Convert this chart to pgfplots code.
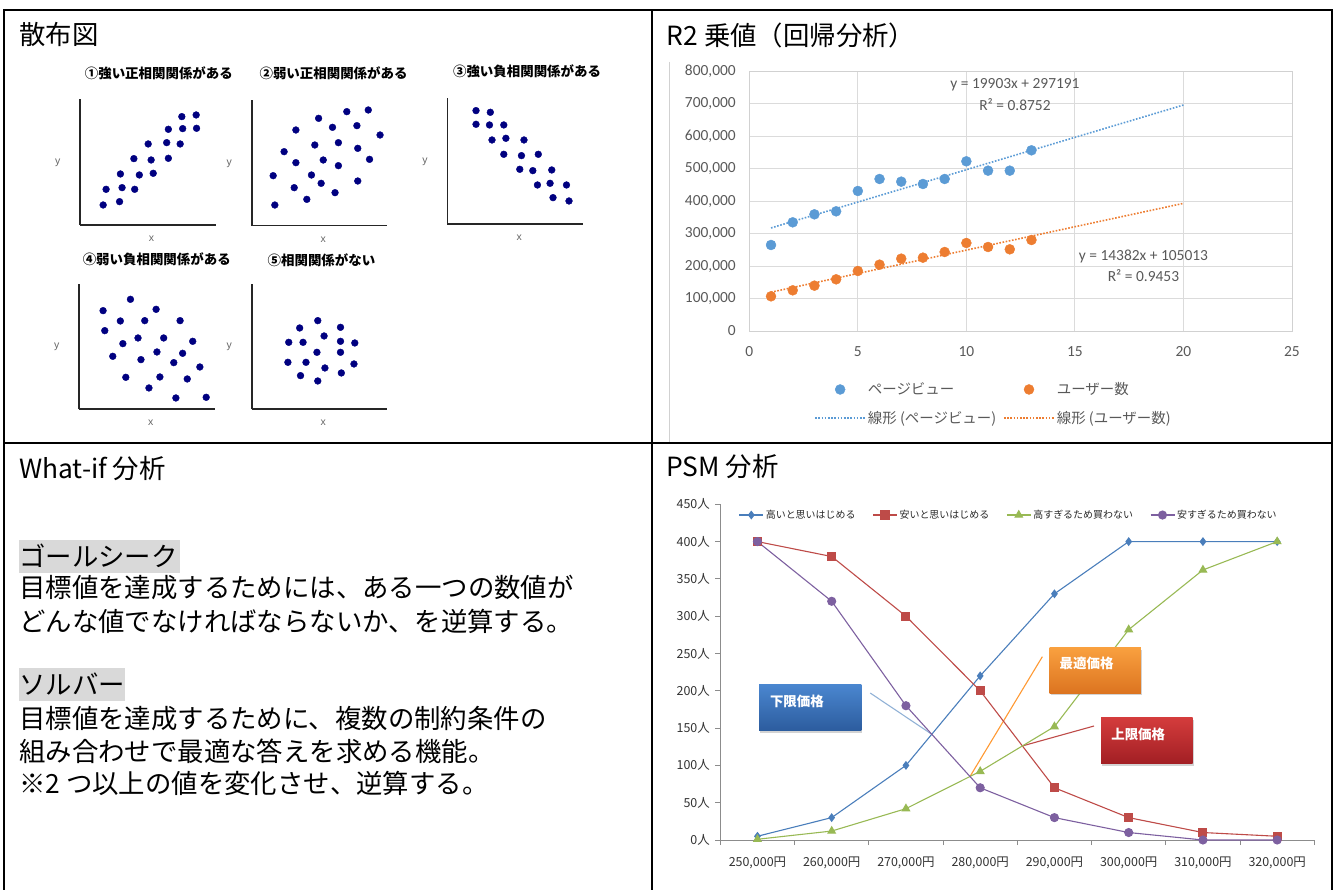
\documentclass[border=0pt]{standalone}
\usepackage{fontspec}
\setmainfont{Noto Sans CJK JP}
\newfontfamily\carlito{Carlito}
\newfontfamily\arial{Liberation Sans}
\usepackage{pgfplots}
\pgfplotsset{compat=1.18}
\usetikzlibrary{shadows}

\newcommand{\fs}[1]{\fontsize{#1}{#1}\selectfont}

\definecolor{navy}{RGB}{0,0,128}
\definecolor{pvblue}{HTML}{5B9BD5}
\definecolor{uorange}{HTML}{ED7D31}
\definecolor{gtext}{HTML}{595959}
\definecolor{psmblue}{HTML}{4A7EBB}
\definecolor{psmred}{HTML}{BE4B48}
\definecolor{psmgreen}{HTML}{98B954}
\definecolor{psmpurple}{HTML}{7D60A0}
\definecolor{hl}{HTML}{D9D9D9}
\definecolor{boxbluetop}{HTML}{4A86CF}
\definecolor{boxbluebot}{HTML}{2C5C9E}
\definecolor{boxorangetop}{HTML}{F9A03F}
\definecolor{boxorangebot}{HTML}{DC7420}
\definecolor{boxredtop}{HTML}{D43C3C}
\definecolor{boxredbot}{HTML}{A21F24}

\pgfplotsset{
  scat/.style={scale only axis, anchor=south west, clip=false,
    axis x line*=bottom, axis y line*=left,
    axis line style={-, line width=1.6bp, draw=black!85},
    xtick=\empty, ytick=\empty,
    xlabel={x}, ylabel={y},
    xlabel style={at={(axis description cs:0.528,-0.11)}, anchor=center, font=\arial\fs{10.5}, text=black!60},
    ylabel style={at={(axis description cs:-0.165,0.496)}, anchor=center, rotate=-90, font=\arial\fs{10.5}, text=black!60},
    title style={anchor=center, font=\bfseries\fs{13.5}}},
  dots/.style={only marks, mark=*, mark size=3.4bp, mark options={draw=navy, fill=navy}},
}

\begin{document}
\begin{tikzpicture}[x=1bp, y=1bp]
\useasboundingbox (0,0) rectangle (1335,889);

% table frame
\draw[line width=2.5bp] (4,-2) -- (4,879) -- (1332,879) -- (1332,-2);
\draw[line width=2.5bp] (4,446) -- (1332,446);
\draw[line width=2.5bp] (652,879) -- (652,-2);
\draw[black!18, line width=0.8bp] (669.5,827) -- (669.5,447);

% cell headers
\node[anchor=base west, inner sep=0, font=\fs{26.5}] at (19,844) {散布図};
\node[anchor=base west, inner sep=0, font=\fs{26.5}] at (666.5,843) {R2 乗値（回帰分析）};
\node[anchor=base west, inner sep=0, font=\fs{26.5}] at (19,410) {What-if 分析};
\node[anchor=base west, inner sep=0, font=\fs{26.5}] at (666,412) {PSM 分析};

% What-if text
\fill[hl] (19,349) rectangle (180,316.3);
\fill[hl] (19,220.7) rectangle (125,188.3);
\begin{scope}[every node/.style={anchor=base west, inner sep=0, font=\fs{26.5}}]
\node at (19,322.3) {ゴールシーク};
\node at (19,291) {目標値を達成するためには、ある一つの数値が};
\node at (19,257.3) {どんな値でなければならないか、を逆算する。};
\node at (19,194.5) {ソルバー};
\node at (19,160.7) {目標値を達成するために、複数の制約条件の};
\node at (19,127.3) {組み合わせで最適な答えを求める機能。};
\node at (19,96) {※2 つ以上の値を変化させ、逆算する。};
\end{scope}

% ---------- scatter examples ----------
\begin{axis}[scat, at={(80bp,664bp)}, width=135.5bp, height=125.7bp,
  xmin=190, xmax=512, ymin=-675, ymax=-298,
  title={①強い正相関関係がある}, title style={at={(axis description cs:0.582,1.159)}}]
\addplot[dots] coordinates {(245,-615) (284,-605) (252,-568) (290,-563) (320,-568) (286,-522) (331,-525) (364,-520) (318,-476) (359,-480) (400,-475) (352,-432) (396,-428) (428,-432) (400,-388) (434,-386) (467,-385) (432,-350) (466,-345)};
\end{axis}

\begin{axis}[scat, at={(251.7bp,663.3bp)}, width=135.5bp, height=125.7bp,
  xmin=598, xmax=920, ymin=-677, ymax=-300,
  title={②弱い正相関関係がある}, title style={at={(axis description cs:0.604,1.165)}}]
\addplot[dots] coordinates {(653,-615) (729,-598) (699,-563) (796,-578) (763,-550) (740,-525) (649,-527) (703,-488) (768,-480) (804,-497) (850,-543) (878,-478) (675,-455) (748,-435) (804,-428) (850,-445) (703,-390) (757,-355) (790,-382) (848,-377) (903,-405) (824,-335) (875,-330)};
\end{axis}

\begin{axis}[scat, at={(447.4bp,665bp)}, width=135.9bp, height=125.7bp,
  xmin=1063, xmax=1386, ymin=-672, ymax=-295,
  title={③強い負相関関係がある}, title style={at={(axis description cs:0.586,1.167)}}]
\addplot[dots] coordinates {(1131,-332) (1165,-337) (1131,-373) (1163,-375) (1197,-375) (1169,-420) (1202,-415) (1245,-420) (1197,-463) (1239,-467) (1279,-463) (1235,-508) (1266,-512) (1311,-510) (1277,-555) (1307,-550) (1346,-555) (1314,-593) (1352,-603)};
\end{axis}

\begin{axis}[scat, at={(79.1bp,479.7bp)}, width=135.5bp, height=125.3bp,
  xmin=188, xmax=510, ymin=-1228, ymax=-852,
  title={④弱い負相関関係がある}, title style={at={(axis description cs:0.573,1.146)}}]
\addplot[dots] coordinates {(245,-932) (310,-898) (371,-928) (249,-992) (286,-963) (344,-962) (428,-962) (292,-1031) (328,-1014) (389,-1014) (458,-1024) (268,-1069) (335,-1079) (373,-1056) (434,-1060) (413,-1088) (475,-1101) (299,-1132) (380,-1131) (445,-1137) (354,-1164) (418,-1194) (490,-1192)};
\end{axis}

\begin{axis}[scat, at={(251.7bp,479.7bp)}, width=135.5bp, height=125.3bp,
  xmin=598, xmax=920, ymin=-1228, ymax=-852,
  title={⑤相関関係がない}, title style={at={(axis description cs:0.515,1.138)}}]
\addplot[dots] coordinates {(755,-962) (712,-984) (809,-982) (686,-1027) (720,-1027) (770,-1008) (809,-1024) (843,-1029) (753,-1057) (809,-1057) (684,-1087) (727,-1087) (772,-1104) (841,-1092) (714,-1127) (755,-1143) (811,-1119)};
\end{axis}

% ---------- R2 regression ----------
\begin{axis}[at={(749.3bp,558bp)}, anchor=south west, scale only axis,
  width=542.6bp, height=260bp,
  xmin=0, xmax=25, ymin=0, ymax=800000,
  xtick={0,5,...,25}, ytick={0,100000,...,800000},
  scaled y ticks=false,
  /pgf/number format/assume math mode=true,
  yticklabel style={/pgf/number format/fixed, /pgf/number format/1000 sep={,}, xshift=-10bp},
  xticklabel style={yshift=-12bp},
  tick label style={font=\carlito\fs{15.5}, text=gtext},
  major tick length=0pt,
  grid=major, grid style={draw=black!14, line width=0.8bp},
  axis line style={draw=black!18, line width=0.8bp},
  clip=false,
  legend columns=2,
  legend cell align=left,
  legend image code/.code={\draw[mark repeat=2,mark phase=2,#1] plot coordinates {(0bp,0bp) (25bp,0bp) (50bp,0bp)};},
  legend style={at={(axis description cs:0.45,-0.28)}, anchor=center, draw=none, fill=none,
    font=\fs{14.5}, text=gtext, row sep=11bp,
    /tikz/every even column/.append style={column sep=5bp}},
]
\addplot[only marks, mark=*, mark size=5bp, color=pvblue] coordinates {
  (1,264615) (2,334359) (3,358974) (4,368205) (5,430769) (6,467692) (7,459487)
  (8,452308) (9,467692) (10,522051) (11,493333) (12,493333) (13,555897)};
\addlegendentry{ページビュー}
\addplot[only marks, mark=*, mark size=5bp, color=uorange] coordinates {
  (1,106667) (2,125128) (3,139487) (4,158974) (5,184615) (6,204103) (7,222564)
  (8,225641) (9,243077) (10,270769) (11,258462) (12,251282) (13,280000)};
\addlegendentry{ユーザー数}
\addplot[no marks, color=pvblue, line width=1.6bp, dash pattern=on 1.6bp off 1.6bp] coordinates {(1,317094) (20,695251)};
\addlegendentry{線形 (ページビュー)}
\addplot[no marks, color=uorange, line width=1.6bp, dash pattern=on 1.6bp off 1.6bp] coordinates {(1,119395) (20,392653)};
\addlegendentry{線形 (ユーザー数)}
\begin{scope}[every node/.style={font=\carlito\fs{15.5}, text=gtext, inner sep=0}]
\node at (axis cs:12.24,756923) {y = 19903x + 297191};
\node at (axis cs:12.24,695385) {R² = 0.8752};
\node at (axis cs:18.16,230769) {y = 14382x + 105013};
\node at (axis cs:18.16,169231) {R² = 0.9453};
\end{scope}
\end{axis}

% ---------- PSM ----------
\begin{axis}[at={(720.3bp,49bp)}, anchor=south west, scale only axis,
  width=594bp, height=335.7bp,
  xmin=-0.5, xmax=7.5, ymin=0, ymax=450,
  axis x line*=bottom, axis y line*=left,
  axis line style={-, draw=black!45, line width=0.9bp},
  tick style={draw=black!45, line width=0.9bp},
  tick align=outside, major tick length=0pt, minor tick length=5bp,
  xtick={0,1,2,3,4,5,6,7},
  xticklabels={{250,000円},{260,000円},{270,000円},{280,000円},{290,000円},{300,000円},{310,000円},{320,000円}},
  minor xtick={-0.5,0.5,...,7.5},
  xticklabel style={yshift=-13bp},
  ytick={0,50,...,450},
  minor ytick={0,50,...,450},
  yticklabels={0人,50人,100人,150人,200人,250人,300人,350人,400人,450人},
  yticklabel style={xshift=-7bp},
  tick label style={font=\fs{12.5}, text=black!80},
  clip=false,
  legend columns=4,
  legend cell align=left,
  legend image code/.code={\draw[mark repeat=2,mark phase=2,#1] plot coordinates {(0bp,0bp) (12bp,0bp) (24bp,0bp)};},
  legend style={at={(axis description cs:0.4855,0.968)}, anchor=center, draw=none, fill=none,
    font=\fs{10}, text=black!85,
    /tikz/every even column/.append style={column sep=15bp}},
]
% callout leader lines
\draw[color=psmblue!60, line width=1.1bp] (axis cs:1.519,197) -- (axis cs:2.348,141.7);
\draw[color=orange!80, line width=1.1bp] (axis cs:3.837,245.7) -- (axis cs:2.8625,85.1);
\draw[color=psmred, line width=1.1bp] (axis cs:4.533,152.8) -- (axis cs:3.568,126.1);

\addplot[color=psmblue, line width=1.1bp, mark=diamond*, mark size=3.6bp] coordinates {
  (0,5) (1,30) (2,100) (3,220) (4,330) (5,400) (6,400) (7,400)};
\addlegendentry{高いと思いはじめる}
\addplot[color=psmred, line width=1.1bp, mark=square*, mark size=4bp] coordinates {
  (0,400) (1,380) (2,300) (3,200) (4,70) (5,30) (6,10) (7,5)};
\addlegendentry{安いと思いはじめる}
\addplot[color=psmgreen, line width=1.1bp, mark=triangle*, mark size=4.2bp] coordinates {
  (0,1) (1,12) (2,42) (3,92) (4,152) (5,282) (6,362) (7,400)};
\addlegendentry{高すぎるため買わない}
\addplot[color=psmpurple, line width=1.1bp, mark=*, mark size=4bp] coordinates {
  (0,400) (1,320) (2,180) (3,70) (4,30) (5,10) (6,0) (7,0)};
\addlegendentry{安すぎるため買わない}

% callout boxes
\path[drop shadow={opacity=0.35, shadow xshift=1bp, shadow yshift=-2bp},
  top color=boxbluetop, bottom color=boxbluebot]
  (axis cs:0.021,207.8) rectangle (axis cs:1.401,146.5);
\node[anchor=west, inner sep=0, text=white, font=\bfseries\fs{13.5}, xshift=10.8bp, yshift=-16bp] at (axis cs:0.021,207.8) {下限価格};
\path[drop shadow={opacity=0.35, shadow xshift=1bp, shadow yshift=-2bp},
  top color=boxorangetop, bottom color=boxorangebot]
  (axis cs:3.935,258.0) rectangle (axis cs:5.165,196.6);
\node[anchor=west, inner sep=0, text=white, font=\bfseries\fs{13.5}, xshift=9.9bp, yshift=-16bp] at (axis cs:3.935,258.0) {最適価格};
\path[drop shadow={opacity=0.35, shadow xshift=1bp, shadow yshift=-2bp},
  top color=boxredtop, bottom color=boxredbot]
  (axis cs:4.630,164.2) rectangle (axis cs:5.860,102.5);
\node[anchor=west, inner sep=0, text=white, font=\bfseries\fs{13.5}, xshift=9.9bp, yshift=-16.7bp] at (axis cs:4.630,164.2) {上限価格};
\end{axis}

\end{tikzpicture}
\end{document}
